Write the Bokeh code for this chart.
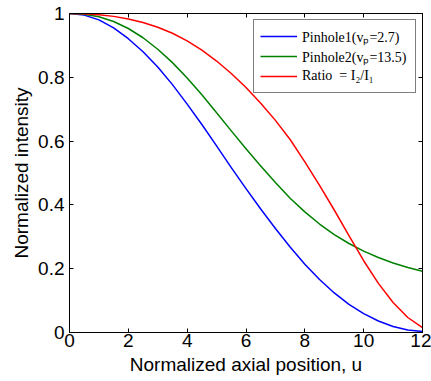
from bokeh.plotting import figure
from bokeh.models import Legend, LegendItem, LinearAxis, FixedTicker, Range1d
from bokeh.embed import file_html
from bokeh.resources import INLINE

# Data
u = [0, 0.5, 1, 1.5, 2, 2.5, 3, 3.5, 4, 4.5, 5, 5.5, 6, 6.5, 7, 7.5, 8, 8.5, 9,
     9.5, 10, 10.5, 11, 11.5, 12]
pinhole1 = [1.000, 0.995, 0.980, 0.955, 0.921, 0.880, 0.832, 0.777, 0.716, 0.652,
            0.585, 0.517, 0.451, 0.387, 0.326, 0.268, 0.214, 0.166, 0.124, 0.088,
            0.059, 0.036, 0.019, 0.008, 0.003]
pinhole2 = [1.000, 0.998, 0.990, 0.975, 0.953, 0.924, 0.888, 0.846, 0.798, 0.745,
            0.689, 0.632, 0.576, 0.522, 0.470, 0.421, 0.378, 0.340, 0.307, 0.279,
            0.255, 0.235, 0.218, 0.204, 0.192]
ratio = [1.000, 0.999, 0.996, 0.991, 0.983, 0.972, 0.957, 0.938, 0.914, 0.885,
         0.851, 0.812, 0.768, 0.719, 0.665, 0.605, 0.535, 0.461, 0.384, 0.304,
         0.225, 0.154, 0.094, 0.047, 0.015]

series_labels = ["Pinhole1(v\u209a=2.7)", "Pinhole2(v\u209a=13.5)", "Ratio  = I\u2082/I\u2081"]
series_colors = ["#0000ff", "#008000", "#ff0000"]

xticks = [0, 2, 4, 6, 8, 10, 12]
xtick_labels = ["0", "2", "4", "6", "8", "10", "12"]
yticks = [0, 0.2, 0.4, 0.6, 0.8, 1.0]
ytick_labels = ["0", "0.2", "0.4", "0.6", "0.8", "1"]

x_title = "Normalized axial position, u"
y_title = "Normalized intensity"

FONT = "Liberation Sans"
FS = "19px"

p = figure(width=431, height=381, output_backend="svg", toolbar_location=None,
           x_range=Range1d(0, 12), y_range=Range1d(0, 1),
           min_border_left=69, min_border_right=9, min_border_top=13,
           min_border_bottom=49)
p.background_fill_color = "white"
p.border_fill_color = "white"
p.outline_line_color = "black"
p.grid.visible = False

renderers = []
for ys, c in zip([pinhole1, pinhole2, ratio], series_colors):
    r = p.line(u, ys, line_color=c, line_width=1.5, line_join="round")
    renderers.append(r)

def style_axis(ax, ticks, labels, show_labels=True):
    ax.ticker = FixedTicker(ticks=ticks)
    ax.major_label_overrides = dict(zip(ticks, labels))
    ax.minor_tick_line_color = None
    ax.major_tick_in = 4
    ax.major_tick_out = 0
    ax.axis_line_color = "black"
    ax.major_tick_line_color = "black"
    ax.major_label_text_font = FONT
    ax.major_label_text_color = "black"
    ax.axis_label_text_font = FONT
    ax.axis_label_text_font_style = "normal"
    ax.axis_label_text_font_size = FS
    ax.axis_label_text_color = "black"
    if show_labels:
        ax.major_label_text_font_size = FS
    else:
        ax.major_label_text_font_size = "0px"
        ax.major_label_standoff = 0

xa = p.xaxis[0]
style_axis(xa, xticks, xtick_labels)
xa.axis_label = x_title
xa.major_label_standoff = 1
xa.axis_label_standoff = 4

ya = p.yaxis[0]
style_axis(ya, yticks, ytick_labels)
ya.axis_label = y_title
ya.major_label_standoff = 5
ya.axis_label_standoff = 3

top = LinearAxis()
style_axis(top, xticks, [""] * len(xticks), show_labels=False)
p.add_layout(top, "above")
right = LinearAxis()
style_axis(right, yticks, [""] * len(yticks), show_labels=False)
p.add_layout(right, "right")

legend = Legend(items=[LegendItem(label=l, renderers=[r]) for l, r in zip(series_labels, renderers)],
                location="top_right", margin=6, padding=6, spacing=0,
                glyph_width=37, glyph_height=20, label_height=20, label_width=107,
                label_standoff=5,
                label_text_font="Liberation Serif", label_text_font_size="14px",
                label_text_color="black",
                border_line_color="black", border_line_width=1,
                background_fill_color="white", background_fill_alpha=1.0)
p.add_layout(legend, "center")

open("out.html", "w").write(file_html(p, INLINE))
